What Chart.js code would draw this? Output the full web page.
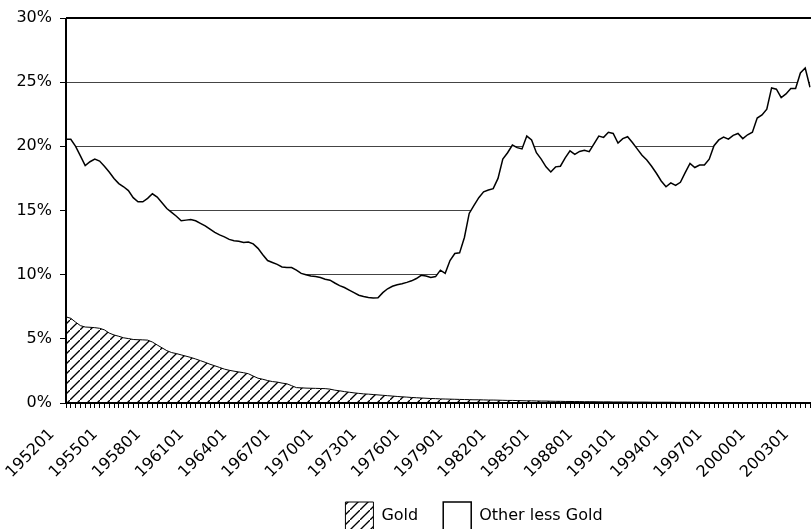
<!DOCTYPE html>
<html>
<head>
<meta charset="utf-8">
<script src="https://cdn.jsdelivr.net/npm/chart.js@4.4.1/dist/chart.umd.min.js"></script>
<style>
  html, body { margin: 0; padding: 0; background: #fff; }
  #wrap { width: 811px; height: 529px; }
</style>
</head>
<body>
<div id="wrap"><canvas id="shareChart"></canvas></div>
<script>
// one point every four months, 195201 .. 200309
const firstYear = 1952;
const lastYear = 2003;
const monthSteps = ["01", "05", "09"];
const periods = [];
for (let y = firstYear; y <= lastYear; y++) {
  monthSteps.forEach((m) => periods.push(`${y}${m}`));
}

const yTicks = [0, 5, 10, 15, 20, 25, 30];

// gold share (%)
const gold = [
  6.71, 6.6, 6.3, 6.03, 5.92, 5.9, 5.87, 5.82, 5.7, 5.45, 5.3, 5.2,
  5.08, 5.02, 4.95, 4.93, 4.92, 4.9, 4.75, 4.52, 4.3, 4.08, 3.93, 3.85,
  3.75, 3.65, 3.55, 3.43, 3.3, 3.17, 3.02, 2.9, 2.77, 2.64, 2.55, 2.48,
  2.42, 2.36, 2.28, 2.1, 1.93, 1.85, 1.75, 1.67, 1.63, 1.55, 1.5, 1.35,
  1.2, 1.18, 1.16, 1.15, 1.14, 1.13, 1.12, 1.08, 1.0, 0.95, 0.89, 0.84,
  0.79, 0.75, 0.71, 0.69, 0.66, 0.63, 0.6, 0.57, 0.54, 0.51, 0.48, 0.46,
  0.43, 0.41, 0.39, 0.37, 0.35, 0.34, 0.32, 0.31, 0.3, 0.29, 0.28, 0.27,
  0.26, 0.25, 0.25, 0.24, 0.23, 0.23, 0.22, 0.21, 0.2, 0.2, 0.19, 0.18,
  0.17, 0.17, 0.16, 0.15, 0.15, 0.14, 0.13, 0.13, 0.12, 0.12, 0.11, 0.11,
  0.1, 0.1, 0.1, 0.09, 0.09, 0.09, 0.08, 0.08, 0.08, 0.08, 0.07, 0.07,
  0.07, 0.07, 0.06, 0.06, 0.06, 0.06, 0.06, 0.05, 0.05, 0.05, 0.05, 0.05,
  0.05, 0.04, 0.04, 0.04, 0.04, 0.04, 0.04, 0.04, 0.04, 0.03, 0.03, 0.03,
  0.03, 0.03, 0.03, 0.03, 0.03, 0.03, 0.03, 0.03, 0.03, 0.03, 0.03, 0.03
];

// top of the stack: gold + other less gold (%)
const goldPlusOther = [
  20.55, 20.55, 20.0, 19.25, 18.5, 18.8, 19.0, 18.85, 18.45, 18.0, 17.5, 17.1,
  16.85, 16.55, 16.0, 15.68, 15.68, 15.95, 16.3, 16.05, 15.6, 15.15, 14.85, 14.55,
  14.2, 14.25, 14.3, 14.2, 14.0, 13.8, 13.55, 13.3, 13.1, 12.95, 12.75, 12.65,
  12.6, 12.5, 12.55, 12.4, 12.05, 11.55, 11.1, 10.95, 10.8, 10.6, 10.55, 10.55,
  10.35, 10.1, 10.0, 9.9, 9.85, 9.78, 9.65, 9.57, 9.35, 9.15, 9.0, 8.8,
  8.6, 8.4, 8.3, 8.22, 8.18, 8.2, 8.6, 8.9, 9.1, 9.22, 9.3, 9.4,
  9.52, 9.7, 9.95, 9.9, 9.78, 9.85, 10.35, 10.1, 11.1, 11.65, 11.7, 12.9,
  14.77, 15.4, 16.0, 16.45, 16.6, 16.7, 17.5, 19.0, 19.5, 20.1, 19.9, 19.8,
  20.8, 20.5, 19.5, 19.0, 18.4, 18.0, 18.4, 18.45, 19.1, 19.65, 19.38, 19.6,
  19.7, 19.58, 20.2, 20.8, 20.7, 21.1, 21.0, 20.25, 20.6, 20.75, 20.3, 19.8,
  19.3, 18.93, 18.45, 17.9, 17.3, 16.85, 17.15, 16.95, 17.2, 17.95, 18.67, 18.35,
  18.54, 18.54, 19.0, 20.05, 20.5, 20.72, 20.56, 20.85, 21.0, 20.6, 20.9, 21.1,
  22.2, 22.45, 22.9, 24.55, 24.45, 23.8, 24.08, 24.5, 24.5, 25.72, 26.1, 24.6
];

const FONT = { family: "DejaVu Sans", size: 16 };

// diagonal hatch for the gold area
function makeHatch() {
  const c = document.createElement("canvas");
  c.width = 10;
  c.height = 10;
  const g = c.getContext("2d");
  g.fillStyle = "#fff";
  g.fillRect(0, 0, 10, 10);
  g.strokeStyle = "#000";
  g.lineWidth = 1.3;
  g.beginPath();
  g.moveTo(-1, 11);
  g.lineTo(11, -1);
  g.stroke();
  return g.createPattern(c, "repeat");
}

// axis lines on top of the filled areas
const axisLines = {
  id: "axisLines",
  afterDatasetsDraw(chart) {
    const { ctx, chartArea: a } = chart;
    ctx.save();
    ctx.strokeStyle = "#000";
    ctx.lineWidth = 2;
    ctx.beginPath();
    ctx.moveTo(a.left, a.top);
    ctx.lineTo(a.right + 2, a.top);
    ctx.moveTo(a.left, a.top);
    ctx.lineTo(a.left, a.bottom);
    ctx.moveTo(a.left - 1, a.bottom);
    ctx.lineTo(a.right + 2, a.bottom);
    ctx.stroke();
    ctx.restore();
  },
};

const legendShift = {
  id: "legendShift",
  afterLayout(chart) {
    chart.legend.left += 69;
    chart.legend.right += 69;
  },
};

new Chart(document.getElementById("shareChart"), {
  type: "line",
  data: {
    labels: periods,
    datasets: [
      {
        label: "Gold",
        data: gold,
        fill: "origin",
        backgroundColor: makeHatch(),
        borderColor: "#000",
        borderWidth: 1,
      },
      {
        label: "Other less Gold",
        data: goldPlusOther,
        fill: "-1",
        backgroundColor: "#fff",
        borderColor: "#000",
        borderWidth: 1.5,
      },
    ],
  },
  options: {
    responsive: true,
    maintainAspectRatio: false,
    animation: false,
    elements: { point: { radius: 0 }, line: { tension: 0 } },
    layout: { padding: { top: 18, left: 0, right: 1, bottom: -11 } },
    plugins: {
      tooltip: { enabled: false },
      legend: {
        position: "bottom",
        labels: {
          font: FONT,
          color: "#000",
          boxWidth: 28,
          boxHeight: 28,
          padding: 25,
        },
      },
    },
    scales: {
      x: {
        type: "category",
        afterFit: (s) => {
          s.height = 74;
          s.paddingRight = 0;
        },
        border: { display: false },
        grid: { drawOnChartArea: false, tickLength: 5, tickColor: "#000" },
        ticks: {
          autoSkip: false,
          minRotation: 45,
          maxRotation: 45,
          padding: 17,
          labelOffset: -14,
          font: FONT,
          color: "#000",
          callback: function (v, i) {
            return i % 9 === 0 ? this.getLabelForValue(v) : "";
          },
        },
      },
      y: {
        min: yTicks[0],
        max: yTicks[yTicks.length - 1],
        afterFit: (s) => { s.width = 66; },
        border: { display: false },
        grid: {
          color: (c) => (c.tick.value === 0 || c.tick.value === 30 ? "rgba(0,0,0,0)" : "#444"),
          tickColor: "#000",
          tickLength: 6,
        },
        ticks: {
          stepSize: 5,
          padding: 8,
          font: FONT,
          color: "#000",
          callback: (v) => v + "%",
        },
      },
    },
  },
  plugins: [axisLines, legendShift],
});
</script>
</body>
</html>
